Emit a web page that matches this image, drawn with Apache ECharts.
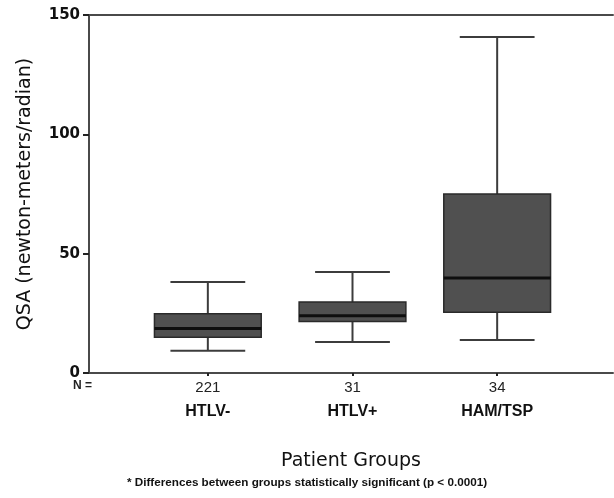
<!DOCTYPE html>
<html><head><meta charset="utf-8">
<script src="https://cdn.jsdelivr.net/npm/echarts@6/dist/echarts.min.js"></script>
<style>html,body{margin:0;padding:0;background:#fff}#c{width:614px;height:498px}</style>
</head><body><div id="c"></div>
<script>
const categories = ['HTLV-', 'HTLV+', 'HAM/TSP'];
const counts = ['221', '31', '34'];
// [lower whisker, Q1, median, Q3, upper whisker]
const lowWhisker = [9.3, 13.0, 13.8];
const q1 = [15.0, 21.6, 25.5];
const median = [18.6, 24.0, 39.8];
const q3 = [24.8, 29.7, 75.0];
const highWhisker = [38.1, 42.3, 140.8];
const yTicks = [0, 50, 100, 150];

const boxData = categories.map((c, i) => [i, lowWhisker[i], q1[i], median[i], q3[i], highWhisker[i]]);

const chart = echarts.init(document.getElementById('c'));
chart.setOption({
  animation: false,
  backgroundColor: '#fff',
  grid: [
    {left: 135.5, right: 44.5, top: 15, bottom: 125},
    {left: 89, right: 1, top: 15, bottom: 125}
  ],
  title: {
    text: '* Differences between groups statistically significant (p < 0.0001)',
    left: 'center', bottom: 4,
    textStyle: {fontFamily: 'Liberation Sans', fontSize: 11.7, fontWeight: 'bold', color: '#111'}
  },
  xAxis: [
    {
      type: 'category', gridIndex: 0, data: categories,
      axisLine: {show: false},
      axisTick: {show: true, alignWithLabel: true, length: 3, lineStyle: {color: '#222', width: 2}},
      axisLabel: {
        margin: 6,
        formatter: (v, i) => '{n|' + counts[i] + '}\n{c|' + v + '}',
        rich: {
          n: {fontFamily: 'Liberation Sans', fontSize: 15, color: '#222', lineHeight: 18},
          c: {fontFamily: 'Liberation Sans', fontSize: 16, fontWeight: 'bold', color: '#111', lineHeight: 30}
        }
      },
      splitLine: {show: false}
    },
    {
      type: 'value', gridIndex: 1, min: 0, max: 1, position: 'bottom',
      axisLine: {show: true, onZero: false, lineStyle: {color: '#4a4a4a', width: 2}},
      axisTick: {show: false}, axisLabel: {show: false}, splitLine: {show: false},
      name: 'Patient Groups', nameLocation: 'middle', nameGap: 79,
      nameTextStyle: {fontFamily: 'DejaVu Sans', fontSize: 19, color: '#111'}
    },
    {
      type: 'value', gridIndex: 1, min: 0, max: 1, position: 'top',
      axisLine: {show: true, onZero: false, lineStyle: {color: '#4a4a4a', width: 2}},
      axisTick: {show: false}, axisLabel: {show: false}, splitLine: {show: false}
    }
  ],
  yAxis: [
    {type: 'value', gridIndex: 0, min: 0, max: 150, show: false},
    {
      type: 'value', gridIndex: 1, min: 0, max: 150, interval: 50,
      axisLine: {show: true, lineStyle: {color: '#4a4a4a', width: 2}},
      axisTick: {show: true, length: 6, lineStyle: {color: '#222', width: 2}},
      axisLabel: {margin: 9, fontFamily: 'DejaVu Sans', fontSize: 15, fontWeight: 'bold', color: '#111',
        formatter: v => yTicks.includes(v) ? String(v) : ''},
      splitLine: {show: false},
      name: 'QSA (newton-meters/radian)', nameLocation: 'middle', nameGap: 54,
      nameTextStyle: {fontFamily: 'DejaVu Sans', fontSize: 19, color: '#111'}
    }
  ],
  graphic: [{
    type: 'text', left: 73, top: 380,
    style: {text: 'N =', font: 'bold 12px "Liberation Sans"', fill: '#222'}
  }],
  series: [{
    type: 'custom', xAxisIndex: 0, yAxisIndex: 0,
    data: boxData,
    renderItem: function (params, api) {
      const idx = api.value(0);
      const band = api.size([1, 0])[0];
      const bw = band * 0.738, cw = band * 0.517;
      const pLo = api.coord([idx, api.value(1)]);
      const pQ1 = api.coord([idx, api.value(2)]);
      const pMed = api.coord([idx, api.value(3)]);
      const pQ3 = api.coord([idx, api.value(4)]);
      const pHi = api.coord([idx, api.value(5)]);
      const cx = pMed[0];
      const wStyle = {stroke: '#3c3c3c', lineWidth: 2};
      return {
        type: 'group',
        children: [
          {type: 'line', shape: {x1: cx, y1: pHi[1], x2: cx, y2: pQ3[1]}, style: wStyle},
          {type: 'line', shape: {x1: cx, y1: pLo[1], x2: cx, y2: pQ1[1]}, style: wStyle},
          {type: 'line', shape: {x1: cx - cw / 2, y1: pHi[1], x2: cx + cw / 2, y2: pHi[1]}, style: wStyle},
          {type: 'line', shape: {x1: cx - cw / 2, y1: pLo[1], x2: cx + cw / 2, y2: pLo[1]}, style: wStyle},
          {type: 'rect', shape: {x: cx - bw / 2, y: pQ3[1], width: bw, height: pQ1[1] - pQ3[1]},
            style: {fill: '#505050', stroke: '#2a2a2a', lineWidth: 1.5}},
          {type: 'line', shape: {x1: cx - bw / 2, y1: pMed[1], x2: cx + bw / 2, y2: pMed[1]},
            style: {stroke: '#0e0e0e', lineWidth: 3}}
        ]
      };
    }
  }]
});
</script></body></html>
